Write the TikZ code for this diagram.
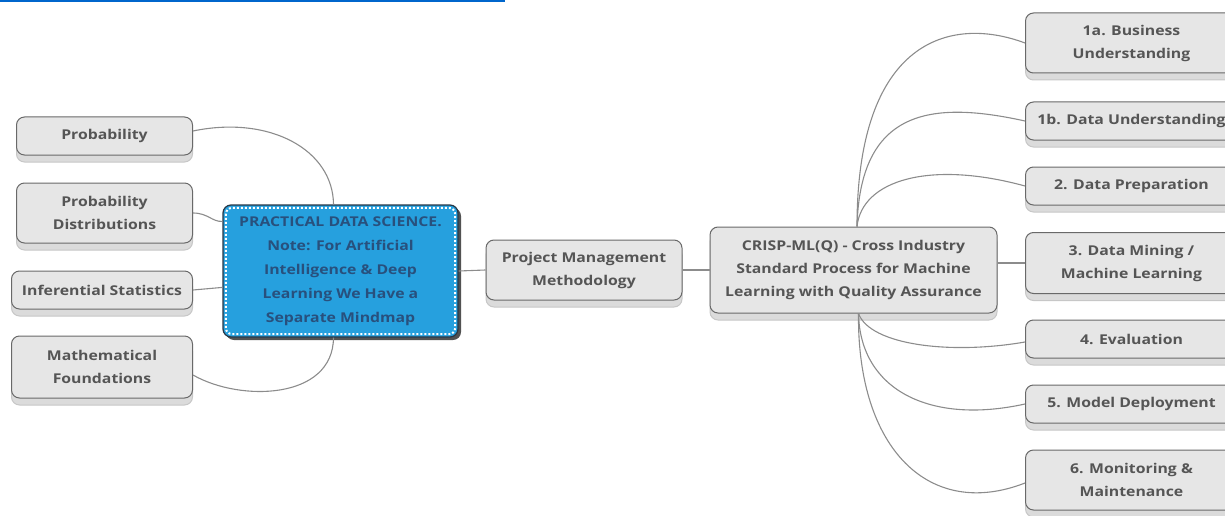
\documentclass[tikz,border=0pt]{standalone}
\usepackage{fontspec}
\setmainfont[FakeStretch=1.17]{Open Sans}
\usetikzlibrary{shadows}
\definecolor{boxfill}{RGB}{230,230,230}
\definecolor{boxline}{RGB}{105,105,105}
\definecolor{txtcol}{RGB}{85,85,85}
\definecolor{corefill}{RGB}{38,160,222}
\definecolor{coreline}{RGB}{40,55,70}
\definecolor{coretxt}{RGB}{40,80,125}
\definecolor{linkcol}{RGB}{140,140,140}
\definecolor{rulecol}{RGB}{0,102,204}
\tikzset{
  % grey topic box
  topic/.style={rectangle, rounded corners=8pt, draw=boxline, fill=boxfill, line width=1pt,
                minimum height=38pt, minimum width=#1, align=center, inner sep=3pt,
                font=\bfseries\fontsize{13.5}{23}\selectfont, text=txtcol,
                drop shadow={shadow xshift=0pt, shadow yshift=-7pt, opacity=1, fill=black!14, draw=black!22}},
  topic/.default={176pt},
  % central blue box
  corebox/.style={rectangle, rounded corners=8pt, draw=coreline, fill=corefill, line width=1.2pt,
                  minimum width=235pt, minimum height=132pt, align=center, inner sep=3pt,
                  font=\bfseries\fontsize{13.5}{24}\selectfont, text=coretxt,
                  drop shadow={shadow xshift=3pt, shadow yshift=-3pt, opacity=0.85, fill=black!80}},
  % connector
  link/.style={draw=linkcol, line width=1.1pt},
}
\begin{document}
\begin{tikzpicture}[x=1pt, y=-1pt]
  \useasboundingbox (0,0) rectangle (1225,516);
  % top rule
  \fill[rulecol] (0,0) rectangle (505,2);

  % centre
  \node[corebox] (core) at (340.5,271) {PRACTICAL DATA SCIENCE.\\Note: For Artificial\\Intelligence \& Deep\\Learning We Have a\\Separate Mindmap};
  \draw[white, dotted, line width=2pt, rounded corners=6pt]
    ([shift={(3.5pt,-3.5pt)}]core.north west) rectangle ([shift={(-3.5pt,3.5pt)}]core.south east);

  % left branch
  \node[topic, anchor=east] (prob) at (193,136) {Probability};
  \node[topic, anchor=east, minimum height=60pt] (dist) at (193,213) {Probability\\Distributions};
  \node[topic=181pt, anchor=east] (infer) at (193,290) {Inferential Statistics};
  \node[topic=181pt, anchor=east, minimum height=62pt] (maths) at (193,367) {Mathematical\\Foundations};

  % middle chain
  \node[topic=196pt, minimum height=60pt] (pmm) at (584,270) {Project Management\\Methodology};
  \node[topic=287pt, minimum height=86pt] (crisp) at (853.5,270) {CRISP-ML(Q) - Cross Industry\\Standard Process for Machine\\Learning with Quality Assurance};
  \coordinate (crisptop) at ([xshift=3.5pt]crisp.north);
  \coordinate (crispbot) at ([xshift=5pt]crisp.south);

  % right branch
  \node[topic=212pt, anchor=west, minimum height=60pt] (bus) at (1025,43) {1a. Business\\Understanding};
  \node[topic=212pt, anchor=west] (datau) at (1025,121) {1b. Data Understanding};
  \node[topic=212pt, anchor=west] (prep) at (1025,186) {2. Data Preparation};
  \node[topic=212pt, anchor=west, minimum height=61pt] (mine) at (1025,263) {3. Data Mining /\\Machine Learning};
  \node[topic=212pt, anchor=west] (eval) at (1025,339) {4. Evaluation};
  \node[topic=212pt, anchor=west] (deploy) at (1025,404) {5. Model Deployment};
  \node[topic=212pt, anchor=west, minimum height=60pt] (monit) at (1025,480) {6. Monitoring \&\\Maintenance};

  % connectors
  \draw[link] ([yshift=5pt]prob.east) .. controls (270,115) and (333,150) .. ([xshift=-7pt]core.north);
  \draw[link] (dist.east) .. controls (208,213) and (212,222) .. ([yshift=-17pt]core.north west);
  \draw[link] (infer.east) -- ([yshift=-83pt]core.north west);
  \draw[link] ([yshift=-8pt]maths.east) .. controls (240,402) and (333,400) .. ([xshift=-7pt]core.south);
  \draw[link] (core.east) -- (pmm.west);
  \draw[link] (pmm.east) -- (crisp.west);
  \draw[link] (crisptop) .. controls (857,40) and (950,15) .. (bus.west);
  \draw[link] (crisptop) .. controls (860,110) and (930,100) .. (datau.west);
  \draw[link] (crisptop) .. controls (862,180) and (930,160) .. (prep.west);
  \draw[link] ([yshift=7pt]crisp.east) -- (mine.west);
  \draw[link] (crispbot) .. controls (870,345) and (950,355) .. ([yshift=-3pt]eval.west);
  \draw[link] (crispbot) .. controls (860,390) and (930,425) .. (deploy.west);
  \draw[link] (crispbot) .. controls (857,450) and (930,520) .. ([yshift=-3pt]monit.west);
\end{tikzpicture}
\end{document}
